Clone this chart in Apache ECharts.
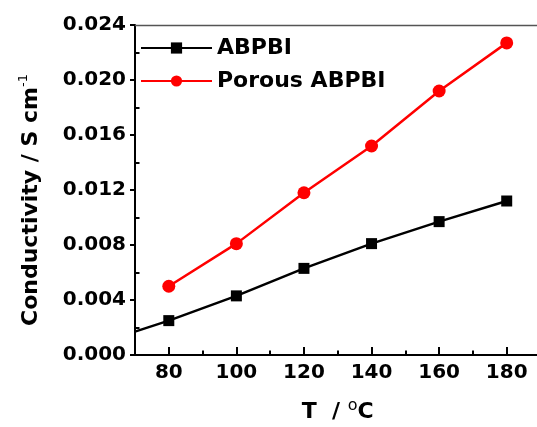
<!DOCTYPE html>
<html>
<head>
<meta charset="utf-8">
<script src="https://cdn.jsdelivr.net/npm/echarts@6/dist/echarts.min.js"></script>
<style>
  html, body { margin: 0; padding: 0; background: #fff; }
  #chart { width: 537px; height: 427px; }
</style>
</head>
<body>
<div id="chart"></div>
<script>
// temperature (°C) and conductivity (S cm-1)
var abpbiT = [70, 80, 100, 120, 140, 160, 180];
var abpbi = [0.0017, 0.0025, 0.0043, 0.0063, 0.0081, 0.0097, 0.0112];
var porousT = [80, 100, 120, 140, 160, 180];
var porous = [0.0050, 0.0081, 0.0118, 0.0152, 0.0192, 0.0227];

var xTicks = [80, 100, 120, 140, 160, 180];
var xMinorTicks = [90, 110, 130, 150, 170];
var yTicks = [0, 0.004, 0.008, 0.012, 0.016, 0.020, 0.024];
var yMinorTicks = [0.002, 0.006, 0.010, 0.014, 0.018, 0.022];

var FONT = "DejaVu Sans";

function pairs(xs, ys) {
  return xs.map(function (x, i) { return [x, ys[i]]; });
}

var black = pairs(abpbiT, abpbi).map(function (p, i) {
  // first point only continues the line to the axis, no marker
  return i === 0 ? { value: p, symbolSize: 0 } : p;
});

var option = {
  backgroundColor: "#fff",
  animation: false,
  grid: { left: 135, top: 25, right: -3.5, bottom: 72, containLabel: false, outerBoundsMode: "none" },
  legend: {
    left: 140,
    top: 36,
    padding: 0,
    orient: "vertical",
    itemWidth: 71,
    itemHeight: 14,
    itemGap: 9,
    textStyle: { fontFamily: FONT, fontWeight: "bold", fontSize: 22, color: "#000", lineHeight: 24 },
    data: ["ABPBI", "Porous ABPBI"]
  },
  xAxis: [
    {
      type: "value", min: 70, max: 190,
      position: "bottom",
      splitLine: { show: false },
      axisLine: { lineStyle: { color: "#000", width: 2 } },
      axisTick: { inside: true, length: 8, customValues: xTicks, lineStyle: { color: "#000", width: 2 } },
      axisLabel: {
        customValues: xTicks, margin: 8,
        fontFamily: FONT, fontWeight: "bold", fontSize: 20, color: "#000"
      },
      name: "{a|T  / }{s|o}{a|C}",
      nameLocation: "middle",
      nameGap: 43,
      nameTextStyle: {
        rich: {
          a: { fontFamily: FONT, fontWeight: "bold", fontSize: 22, lineHeight: 28, color: "#000" },
          s: { fontFamily: FONT, fontSize: 16, lineHeight: 14, color: "#000", verticalAlign: "top" }
        }
      }
    },
    {
      // minor ticks
      type: "value", min: 70, max: 190, position: "bottom",
      splitLine: { show: false },
      axisLine: { show: false },
      axisTick: { inside: true, length: 4.5, customValues: xMinorTicks, lineStyle: { color: "#000", width: 2 } },
      axisLabel: { show: false }
    },
    {
      // top frame line
      type: "value", min: 70, max: 190, position: "top",
      splitLine: { show: false },
      axisLine: { lineStyle: { color: "#555", width: 1.3 } },
      axisTick: { show: false },
      axisLabel: { show: false }
    }
  ],
  yAxis: [
    {
      type: "value", min: 0, max: 0.024,
      splitLine: { show: false },
      axisLine: { show: true, lineStyle: { color: "#000", width: 2 } },
      axisTick: { show: true, inside: false, length: 5, customValues: yTicks, lineStyle: { color: "#000", width: 2 } },
      axisLabel: {
        customValues: yTicks, margin: 9,
        fontFamily: FONT, fontWeight: "bold", fontSize: 20, color: "#000",
        formatter: function (v) { return v.toFixed(3); }
      },
      name: "{a|Conductivity / S cm}{s|-1}",
      nameLocation: "middle",
      nameRotate: 90,
      nameGap: 90,
      nameTextStyle: {
        padding: [0, 20, 0, 0],
        rich: {
          a: { fontFamily: FONT, fontWeight: "bold", fontSize: 22, lineHeight: 28, color: "#000" },
          s: { fontFamily: FONT, fontSize: 13, lineHeight: 12, color: "#000", verticalAlign: "top" }
        }
      }
    },
    {
      // minor ticks point into the plot
      type: "value", min: 0, max: 0.024, position: "left",
      splitLine: { show: false },
      axisLine: { show: false },
      axisTick: { show: true, inside: true, length: 4.5, customValues: yMinorTicks, lineStyle: { color: "#000", width: 2 } },
      axisLabel: { show: false }
    }
  ],
  series: [
    {
      name: "ABPBI",
      type: "line",
      data: black,
      symbol: "rect",
      symbolSize: 11,
      color: "#000",
      lineStyle: { color: "#000", width: 2.5 },
      itemStyle: { color: "#000" },
      z: 3
    },
    {
      name: "Porous ABPBI",
      type: "line",
      data: pairs(porousT, porous),
      symbol: "circle",
      symbolSize: 13,
      color: "#ff0000",
      lineStyle: { color: "#ff0000", width: 2.5 },
      itemStyle: { color: "#ff0000" },
      z: 4
    }
  ]
};

var myChart = echarts.init(document.getElementById("chart"));
myChart.setOption(option);
window.addEventListener("resize", function () {
  myChart.resize();
});
</script>
</body>
</html>
